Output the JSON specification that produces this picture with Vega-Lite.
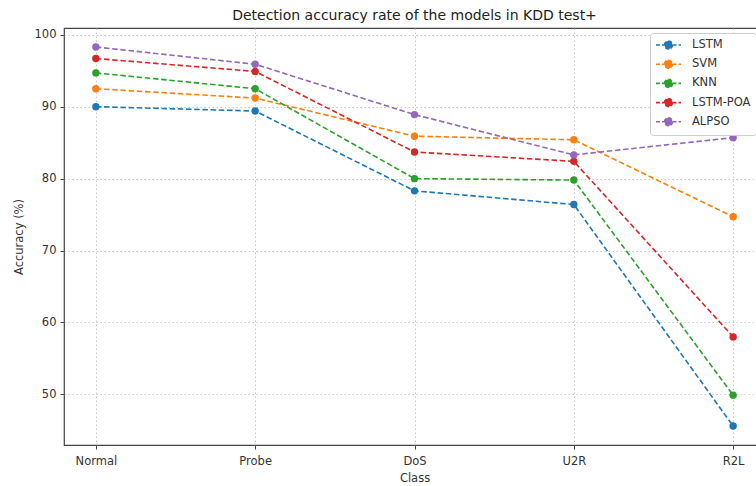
{
  "$schema": "https://vega.github.io/schema/vega-lite/v6.json",
  "width": 701,
  "height": 417,
  "autosize": {"type": "none"},
  "padding": {"left": 64, "top": 28, "right": 0, "bottom": 41},
  "background": "white",
  "title": {"text": "Detection accuracy rate of the models in KDD test+", "font": "DejaVu Sans", "fontSize": 14, "fontWeight": "normal", "color": "#222", "offset": 5, "anchor": "middle"},
  "config": {
    "view": {"stroke": "#444", "strokeWidth": 1.2},
    "axis": {"labelFont": "DejaVu Sans", "titleFont": "DejaVu Sans", "labelFontSize": 11.5, "titleFontSize": 11.5, "titleFontWeight": "normal", "labelColor": "#333", "titleColor": "#333", "tickColor": "#444", "tickSize": 4, "domain": false, "gridColor": "#bbb", "gridDash": [1.5, 2.5], "gridOpacity": 0.8}
  },
  "data": {"values": [
    {"cls": "Normal", "model": "LSTM", "acc": 90.0},
    {"cls": "Probe", "model": "LSTM", "acc": 89.4},
    {"cls": "DoS", "model": "LSTM", "acc": 78.3},
    {"cls": "U2R", "model": "LSTM", "acc": 76.4},
    {"cls": "R2L", "model": "LSTM", "acc": 45.6},
    {"cls": "Normal", "model": "SVM", "acc": 92.5},
    {"cls": "Probe", "model": "SVM", "acc": 91.2},
    {"cls": "DoS", "model": "SVM", "acc": 85.9},
    {"cls": "U2R", "model": "SVM", "acc": 85.4},
    {"cls": "R2L", "model": "SVM", "acc": 74.7},
    {"cls": "Normal", "model": "KNN", "acc": 94.7},
    {"cls": "Probe", "model": "KNN", "acc": 92.5},
    {"cls": "DoS", "model": "KNN", "acc": 80.0},
    {"cls": "U2R", "model": "KNN", "acc": 79.8},
    {"cls": "R2L", "model": "KNN", "acc": 49.9},
    {"cls": "Normal", "model": "LSTM-POA", "acc": 96.7},
    {"cls": "Probe", "model": "LSTM-POA", "acc": 94.9},
    {"cls": "DoS", "model": "LSTM-POA", "acc": 83.7},
    {"cls": "U2R", "model": "LSTM-POA", "acc": 82.4},
    {"cls": "R2L", "model": "LSTM-POA", "acc": 58.0},
    {"cls": "Normal", "model": "ALPSO", "acc": 98.3},
    {"cls": "Probe", "model": "ALPSO", "acc": 95.9},
    {"cls": "DoS", "model": "ALPSO", "acc": 88.9},
    {"cls": "U2R", "model": "ALPSO", "acc": 83.3},
    {"cls": "R2L", "model": "ALPSO", "acc": 85.7}
  ]},
  "encoding": {
    "x": {"field": "cls", "type": "ordinal", "sort": ["Normal", "Probe", "DoS", "U2R", "R2L"], "scale": {"type": "point", "padding": 0.2}, "axis": {"title": "Class", "labelAngle": 0, "grid": true, "labelPadding": 6, "titlePadding": 6}},
    "y": {"field": "acc", "type": "quantitative", "scale": {"domain": [42.97, 100.94], "nice": false, "zero": false}, "axis": {"title": "Accuracy (%)", "values": [50, 60, 70, 80, 90, 100], "grid": true, "labelPadding": 4, "titlePadding": 10}},
    "color": {"field": "model", "type": "nominal", "sort": ["LSTM", "SVM", "KNN", "LSTM-POA", "ALPSO"], "scale": {"domain": ["LSTM", "SVM", "KNN", "LSTM-POA", "ALPSO"], "range": ["#1f77b4", "#ff7f0e", "#2ca02c", "#d62728", "#9467bd"]},
      "legend": {"title": null, "orient": "none", "legendX": 586, "legendY": 5, "labelFont": "DejaVu Sans", "labelFontSize": 11.5, "labelColor": "#333", "fillColor": "white", "strokeColor": "#ccc", "cornerRadius": 3, "padding": 5, "rowPadding": 3.2, "symbolSize": 144, "symbolType": "M-1,0L0.4,0M1.76,0L3.17,0M0.41,0A0.67,0.67 0 1,1 1.75,0A0.67,0.67 0 1,1 0.41,0Z", "symbolStrokeWidth": 1.6, "symbolDash": [4, 2], "labelOffset": 23}}
  },
  "layer": [
    {"mark": {"type": "line", "strokeDash": [5.5, 2.7], "strokeWidth": 1.6}},
    {"mark": {"type": "point", "filled": true, "size": 55, "opacity": 1, "shape": "circle"}}
  ]
}
